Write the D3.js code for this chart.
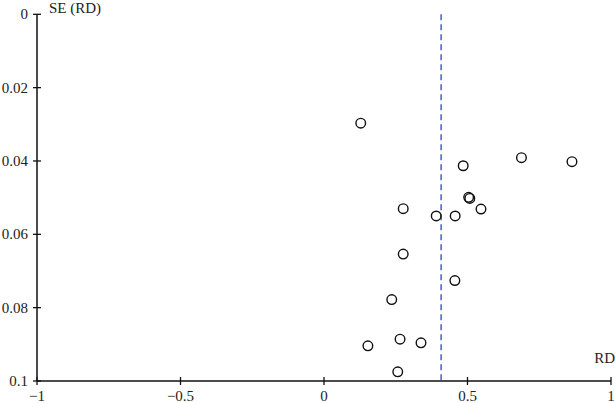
<!DOCTYPE html>
<html>
<head>
<meta charset="utf-8">
<script src="https://cdn.jsdelivr.net/npm/d3@7"></script>
<style>
  html, body { margin: 0; padding: 0; background: #fff; overflow: hidden; }
  text { font-family: "Liberation Serif", "Times New Roman", serif; fill: #222; }
</style>
</head>
<body>
<script>
// Risk difference of each study
const rd = [0.128, 0.485, 0.688, 0.864, 0.504, 0.508, 0.276, 0.391, 0.457, 0.547,
            0.276, 0.456, 0.236, 0.153, 0.265, 0.338, 0.257];
// Standard error of each study
const se = [0.0297, 0.0413, 0.0391, 0.0402, 0.0499, 0.0502, 0.0530, 0.0550, 0.0550, 0.0531,
            0.0654, 0.0726, 0.0778, 0.0904, 0.0886, 0.0896, 0.0975];
// Pooled estimate (dashed line)
const pooled = 0.408;

const xTicks = [-1, -0.5, 0, 0.5, 1];
const yTicks = [0, 0.02, 0.04, 0.06, 0.08, 0.1];

const width = 615, height = 403;

const x = d3.scaleLinear().domain([-1, 1]).range([37, 611]);
const y = d3.scaleLinear().domain([0, 0.1]).range([14.3, 381]);

const svg = d3.select("body").append("svg")
    .attr("width", width)
    .attr("height", height);

const fmt = d => d < 0 ? "\u2212" + Math.abs(d) : String(d);

// Y axis at RD = -1
const yAxis = svg.append("g");
yAxis.append("line")
    .attr("x1", x(-1)).attr("x2", x(-1))
    .attr("y1", y(0)).attr("y2", y(0.1))
    .attr("stroke", "#111").attr("stroke-width", 1.5);
yAxis.selectAll(".tick").data(yTicks).join("line")
    .attr("x1", x(-1) - 4).attr("x2", x(-1) + 4)
    .attr("y1", d => y(d)).attr("y2", d => y(d))
    .attr("stroke", "#111").attr("stroke-width", 1.3);
yAxis.selectAll("text").data(yTicks).join("text")
    .attr("x", 28).attr("y", d => y(d))
    .attr("text-anchor", "end")
    .attr("dominant-baseline", "central")
    .attr("font-size", 15)
    .text(d => d);

// X axis at SE = 0.1
const xAxis = svg.append("g");
xAxis.append("line")
    .attr("x1", x(-1)).attr("x2", x(1))
    .attr("y1", y(0.1)).attr("y2", y(0.1))
    .attr("stroke", "#111").attr("stroke-width", 1.5);
xAxis.selectAll(".tick").data(xTicks).join("line")
    .attr("x1", d => x(d)).attr("x2", d => x(d))
    .attr("y1", y(0.1) - 4).attr("y2", y(0.1) + 4)
    .attr("stroke", "#111").attr("stroke-width", 1.3);
xAxis.selectAll("text").data(xTicks).join("text")
    .attr("x", d => x(d)).attr("y", 401)
    .attr("text-anchor", "middle")
    .attr("font-size", 15)
    .text(fmt);

// Axis titles
svg.append("text").attr("x", 49).attr("y", 13)
    .attr("font-size", 15).text("SE (RD)");
svg.append("text").attr("x", 615).attr("y", 363)
    .attr("text-anchor", "end")
    .attr("font-size", 15).text("RD");

// Pooled estimate line
svg.append("line")
    .attr("x1", x(pooled)).attr("x2", x(pooled))
    .attr("y1", y(0)).attr("y2", y(0.1))
    .attr("stroke", "#2a44c4").attr("stroke-width", 1.3)
    .attr("stroke-dasharray", "6,4");

// Studies
svg.append("g").selectAll("circle").data(rd).join("circle")
    .attr("cx", d => x(d))
    .attr("cy", (d, i) => y(se[i]))
    .attr("r", 4.8)
    .attr("fill", "none")
    .attr("stroke", "#111")
    .attr("stroke-width", 1.4);
</script>
</body>
</html>
